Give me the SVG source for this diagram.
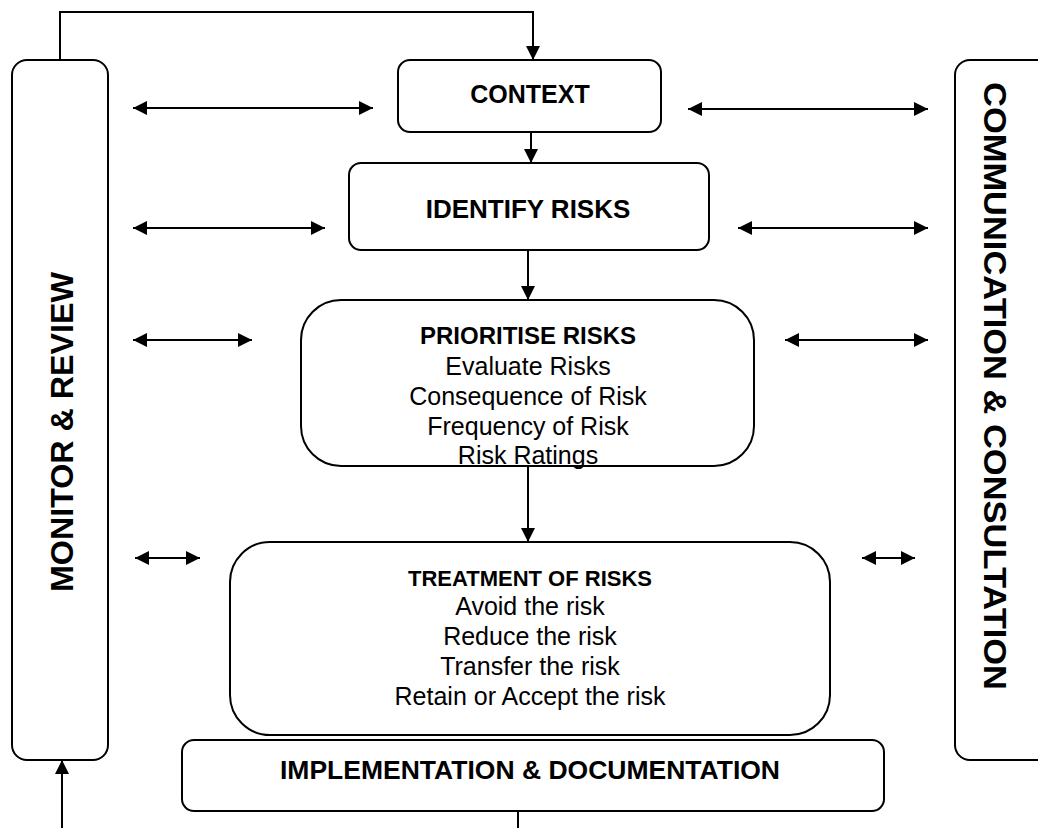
<svg xmlns="http://www.w3.org/2000/svg" width="1038" height="828" viewBox="0 0 1038 828">
<defs>
<marker id="ah2" viewBox="0 0 10 10" refX="10" refY="5" markerWidth="15" markerHeight="14" markerUnits="userSpaceOnUse" orient="auto-start-reverse">
<path d="M0,0 L10,5 L0,10 z" fill="#000"/>
</marker>
</defs>
<style>
.box{fill:#fff;stroke:#000;stroke-width:2}
.t{font-family:"Liberation Sans",Arial,sans-serif;fill:#000;text-anchor:middle}
.b{font-weight:bold;font-size:24px}
.r{font-size:25px}
.side{font-family:"Liberation Sans",Arial,sans-serif;font-weight:bold;font-size:31px;fill:#000;text-anchor:middle}
.c{fill:none;stroke:#000;stroke-width:2}
</style>
<rect width="1038" height="828" fill="#fff"/>
<g id="monitor">
<rect class="box" x="12" y="60" width="96" height="700" rx="15"/>
<text class="side" transform="translate(73,432) rotate(-90)" textLength="320" lengthAdjust="spacingAndGlyphs">MONITOR &amp; REVIEW</text>
</g>
<g id="communication">
<rect class="box" x="955" y="60" width="100" height="700" rx="15"/>
<text class="side" transform="translate(984,386) rotate(90)" textLength="608" lengthAdjust="spacingAndGlyphs">COMMUNICATION &amp; CONSULTATION</text>
</g>
<g id="context">
<rect class="box" x="398" y="60" width="263" height="72" rx="12"/>
<text class="t b" x="530" y="103" style="font-size:25px">CONTEXT</text>
</g>
<g id="identify">
<rect class="box" x="349" y="163" width="360" height="87" rx="12"/>
<text class="t b" x="528" y="218" style="font-size:26px">IDENTIFY RISKS</text>
</g>
<g id="prioritise">
<rect class="box" x="301" y="300" width="453" height="166" rx="40"/>
<text class="t b" x="528" y="344">PRIORITISE RISKS</text>
<text class="t r" x="528" y="375">Evaluate Risks</text>
<text class="t r" x="528" y="405">Consequence of Risk</text>
<text class="t r" x="528" y="435">Frequency of Risk</text>
<text class="t r" x="528" y="464">Risk Ratings</text>
</g>
<g id="treatment">
<rect class="box" x="230" y="542" width="600" height="193" rx="40"/>
<text class="t b" x="530" y="586" style="font-size:22px">TREATMENT OF RISKS</text>
<text class="t r" x="530" y="615">Avoid the risk</text>
<text class="t r" x="530" y="645">Reduce the risk</text>
<text class="t r" x="530" y="675">Transfer the risk</text>
<text class="t r" x="530" y="705">Retain or Accept the risk</text>
</g>
<g id="implementation">
<rect class="box" x="182" y="740" width="702" height="71" rx="12"/>
<text class="t b" x="530" y="779" style="font-size:26.5px">IMPLEMENTATION &amp; DOCUMENTATION</text>
</g>
<g id="connectors">
<path class="c" d="M60,60 V12 H533 V60" marker-end="url(#ah2)"/>
<path class="c" d="M531,132 V163" marker-end="url(#ah2)"/>
<path class="c" d="M528,250 V300" marker-end="url(#ah2)"/>
<path class="c" d="M528,466 V542" marker-end="url(#ah2)"/>
<path class="c" d="M518,811 V828"/>
<path class="c" d="M62,828 V760" marker-end="url(#ah2)"/>
<path class="c" d="M133,108 H373" marker-start="url(#ah2)" marker-end="url(#ah2)"/>
<path class="c" d="M688,109 H928" marker-start="url(#ah2)" marker-end="url(#ah2)"/>
<path class="c" d="M133,228 H325" marker-start="url(#ah2)" marker-end="url(#ah2)"/>
<path class="c" d="M738,228 H928" marker-start="url(#ah2)" marker-end="url(#ah2)"/>
<path class="c" d="M133,340 H252" marker-start="url(#ah2)" marker-end="url(#ah2)"/>
<path class="c" d="M785,340 H928" marker-start="url(#ah2)" marker-end="url(#ah2)"/>
<path class="c" d="M135,558 H200" marker-start="url(#ah2)" marker-end="url(#ah2)"/>
<path class="c" d="M862,558 H915" marker-start="url(#ah2)" marker-end="url(#ah2)"/>
</g>
</svg>
